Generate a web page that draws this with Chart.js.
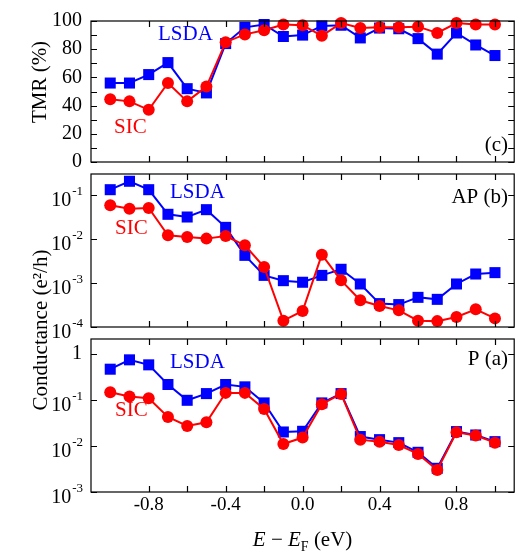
<!DOCTYPE html>
<html>
<head>
<meta charset="utf-8">
<script src="https://cdn.jsdelivr.net/npm/chart.js@4.4.1/dist/chart.umd.min.js"></script>
<style>
  body { margin: 0; background: #fff; }
  #wrap { position: relative; width: 522px; height: 554px; }
  canvas { position: absolute; left: 0; top: 0; }
</style>
</head>
<body>
<div id="wrap">
  <canvas id="tmr" width="522" height="554"></canvas>
  <canvas id="ap" width="522" height="554"></canvas>
  <canvas id="p" width="522" height="554"></canvas>
</div>
<script>
// energy E - E_F (eV)
const energies = [-1.0, -0.9, -0.8, -0.7, -0.6, -0.5, -0.4, -0.3, -0.2, -0.1, 0.0,
                  0.1, 0.2, 0.3, 0.4, 0.5, 0.6, 0.7, 0.8, 0.9, 1.0];

// TMR (%)
const tmrLsda = [56, 56, 62, 70.5, 52, 49, 84, 95.5, 97.5, 89, 90,
                 96.5, 97, 88, 95, 94.5, 87.5, 76.5, 91.5, 83, 75.5];
const tmrSic  = [44.5, 43, 37, 56, 43, 53.5, 85, 90.5, 93.5, 97.5, 97,
                 89.5, 98.5, 95, 95.5, 95.5, 96, 91.5, 98.5, 97.5, 97.5];

// AP conductance (e^2/h)
const apLsda = [0.132, 0.205, 0.132, 0.0364, 0.0316, 0.0464, 0.0184, 0.00425, 0.00149, 0.00113, 0.00104,
                0.00149, 0.00205, 0.00095, 0.00034, 0.000323, 0.000472, 0.000425, 0.00095, 0.0016, 0.00172];
const apSic  = [0.0582, 0.0489, 0.0507, 0.0121, 0.0111, 0.0102, 0.0117, 0.00718, 0.00231, 0.000139, 0.000231,
                0.0044, 0.00115, 0.000404, 0.0003, 0.000239, 0.000139, 0.000136, 0.000169, 0.000252, 0.000157];

// P conductance (e^2/h)
const pLsda = [0.464, 0.741, 0.577, 0.216, 0.098, 0.137, 0.216, 0.192, 0.086, 0.0201, 0.0208,
               0.086, 0.137, 0.016, 0.0137, 0.0118, 0.00728, 0.00327, 0.0205, 0.0173, 0.0124];
const pSic  = [0.147, 0.118, 0.109, 0.0427, 0.0272, 0.0327, 0.142, 0.142, 0.0637, 0.011, 0.0152,
               0.0805, 0.135, 0.0137, 0.0124, 0.0105, 0.0067, 0.003, 0.0198, 0.0168, 0.0118];

// ticks
const xTicks = [-0.8, -0.6, -0.4, -0.2, 0.0, 0.2, 0.4, 0.6, 0.8, 1.0];
const xTickLabels = [-0.8, -0.4, 0.0, 0.4, 0.8];
const tmrTicks = [0, 10, 20, 30, 40, 50, 60, 70, 80, 90, 100];
const tmrTickLabels = [0, 20, 40, 60, 80, 100];
const apTicks = [1e-4, 1e-3, 1e-2, 1e-1];
const pTicks = [1e-3, 1e-2, 1e-1, 1];

const BLUE = '#0000ff';
const RED = '#ff0000';
const SERIF = "'Liberation Serif', 'DejaVu Serif', serif";

function pts(ys) {
  return energies.map((x, i) => ({ x: x, y: ys[i] }));
}

function framePlugin(cfg) {
  return {
    id: 'frame',
    afterDraw(chart) {
      const ctx = chart.ctx;
      const a = chart.chartArea;
      const xs = chart.scales.x;
      const ys = chart.scales.y;
      ctx.save();
      ctx.strokeStyle = '#000';
      ctx.lineWidth = 1.2;
      ctx.strokeRect(a.left, a.top, a.right - a.left, a.bottom - a.top);
      ctx.beginPath();
      xTicks.forEach(v => {
        const px = Math.round(xs.getPixelForValue(v)) + 0.5;
        ctx.moveTo(px, a.bottom); ctx.lineTo(px, a.bottom - 6);
        ctx.moveTo(px, a.top); ctx.lineTo(px, a.top + 6);
      });
      cfg.yTicks.forEach(v => {
        const py = Math.round(ys.getPixelForValue(v)) + 0.5;
        ctx.moveTo(a.left, py); ctx.lineTo(a.left + 6, py);
        ctx.moveTo(a.right, py); ctx.lineTo(a.right - 6, py);
      });
      ctx.stroke();

      ctx.fillStyle = '#000';
      if (cfg.log) {
        cfg.yTicks.forEach(v => {
          const py = ys.getPixelForValue(v);
          const e = Math.round(Math.log10(v));
          ctx.textBaseline = 'middle';
          ctx.textAlign = 'right';
          if (e === 0) {
            ctx.font = '20px ' + SERIF;
            ctx.fillText('1', 82, py);
          } else {
            ctx.font = '13px ' + SERIF;
            const sup = '-' + Math.abs(e);
            const w = ctx.measureText(sup).width;
            ctx.fillText(sup, 83, py - 3);
            ctx.font = '20px ' + SERIF;
            ctx.fillText('10', 82 - w, py + 6);
          }
        });
      }

      (cfg.notes || []).forEach(n => {
        ctx.font = '21px ' + SERIF;
        ctx.fillStyle = n.color;
        ctx.textAlign = n.align || 'left';
        ctx.textBaseline = 'middle';
        ctx.fillText(n.text, n.x, n.y);
      });

      if (cfg.yTitle) {
        ctx.save();
        ctx.translate(cfg.yTitle.x, cfg.yTitle.y);
        ctx.rotate(-Math.PI / 2);
        ctx.font = '21px ' + SERIF;
        ctx.fillStyle = '#000';
        ctx.textAlign = 'center';
        ctx.textBaseline = 'middle';
        ctx.fillText(cfg.yTitle.text, 0, 0);
        ctx.restore();
      }

      if (cfg.xTitle) {
        // E − E_F (eV) with italic E and subscript F
        const parts = [
          { t: 'E', f: 'italic 21px ' + SERIF, dy: 0 },
          { t: ' \u2212 ', f: '21px ' + SERIF, dy: 0 },
          { t: 'E', f: 'italic 21px ' + SERIF, dy: 0 },
          { t: 'F', f: '14px ' + SERIF, dy: 5 },
          { t: ' (eV)', f: '21px ' + SERIF, dy: 0 }
        ];
        let total = 0;
        parts.forEach(p => { ctx.font = p.f; p.w = ctx.measureText(p.t).width; total += p.w; });
        let x = (a.left + a.right) / 2 - total / 2;
        ctx.fillStyle = '#000';
        ctx.textAlign = 'left';
        ctx.textBaseline = 'alphabetic';
        parts.forEach(p => {
          ctx.font = p.f;
          ctx.fillText(p.t, x, cfg.xTitle.y + p.dy);
          x += p.w;
        });
      }
      ctx.restore();
    }
  };
}

function makePanel(id, opts) {
  const lineOpts = (color, style, r) => ({
    borderColor: color,
    backgroundColor: color,
    borderWidth: 2,
    pointStyle: style,
    pointRadius: r,
    pointBorderWidth: 0,
    pointBackgroundColor: color,
    tension: 0,
    clip: false
  });
  return new Chart(document.getElementById(id), {
    type: 'line',
    data: {
      datasets: [
        Object.assign({ label: 'SIC', data: pts(opts.sic) }, lineOpts(RED, 'circle', 6)),
        Object.assign({ label: 'LSDA', data: pts(opts.lsda) }, lineOpts(BLUE, 'rect', 7.8))
      ]
    },
    options: {
      responsive: false,
      animation: false,
      devicePixelRatio: 1,
      layout: { padding: { left: 0, right: 4, top: opts.top, bottom: 0 } },
      plugins: { legend: { display: false }, tooltip: { enabled: false } },
      scales: {
        x: {
          type: 'linear',
          min: -1.1,
          max: 1.1,
          grid: { display: false, drawTicks: false },
          border: { display: false },
          afterBuildTicks: s => { s.ticks = xTicks.map(v => ({ value: v })); },
          afterFit: s => { s.height = 554 - opts.bottom; },
          ticks: {
            display: !!opts.showX,
            padding: 2,
            maxRotation: 0,
            autoSkip: false,
            color: '#000',
            font: { family: SERIF, size: 19 },
            callback: v => xTickLabels.some(t => Math.abs(t - v) < 1e-6) ? v.toFixed(1) : ''
          }
        },
        y: {
          type: opts.log ? 'logarithmic' : 'linear',
          min: opts.min,
          max: opts.max,
          grid: { display: false, drawTicks: false },
          border: { display: false },
          afterBuildTicks: s => { s.ticks = opts.yTicks.map(v => ({ value: v })); },
          afterFit: s => { s.width = 91; },
          ticks: {
            display: !opts.log,
            padding: 9,
            autoSkip: false,
            color: '#000',
            font: { family: SERIF, size: 20 },
            callback: v => tmrTickLabels.includes(v) ? String(v) : ''
          }
        }
      }
    },
    plugins: [framePlugin(opts)]
  });
}

makePanel('tmr', {
  lsda: tmrLsda, sic: tmrSic, min: 0, max: 100, yTicks: tmrTicks, log: false,
  top: 9, bottom: 162,
  yTitle: { text: 'TMR (%)', x: 40, y: 82 },
  notes: [
    { text: 'LSDA', color: BLUE, x: 158, y: 34 },
    { text: 'SIC', color: RED, x: 114, y: 127 },
    { text: '(c)', color: '#000', x: 508, y: 145, align: 'right' }
  ]
});

makePanel('ap', {
  lsda: apLsda, sic: apSic, min: 1e-4, max: 0.3, yTicks: apTicks, log: true,
  top: 174, bottom: 327,
  yTitle: { text: 'Conductance (e\u00b2/h)', x: 41, y: 330 },
  notes: [
    { text: 'LSDA', color: BLUE, x: 170, y: 192 },
    { text: 'SIC', color: RED, x: 115, y: 228 },
    { text: 'AP (b)', color: '#000', x: 508, y: 197, align: 'right' }
  ]
});

makePanel('p', {
  lsda: pLsda, sic: pSic, min: 1e-3, max: 2.1, yTicks: pTicks, log: true,
  top: 339, bottom: 492, showX: true,
  xTitle: { y: 546 },
  notes: [
    { text: 'LSDA', color: BLUE, x: 170, y: 362 },
    { text: 'SIC', color: RED, x: 115, y: 410 },
    { text: 'P (a)', color: '#000', x: 508, y: 359, align: 'right' }
  ]
});
</script>
</body>
</html>
